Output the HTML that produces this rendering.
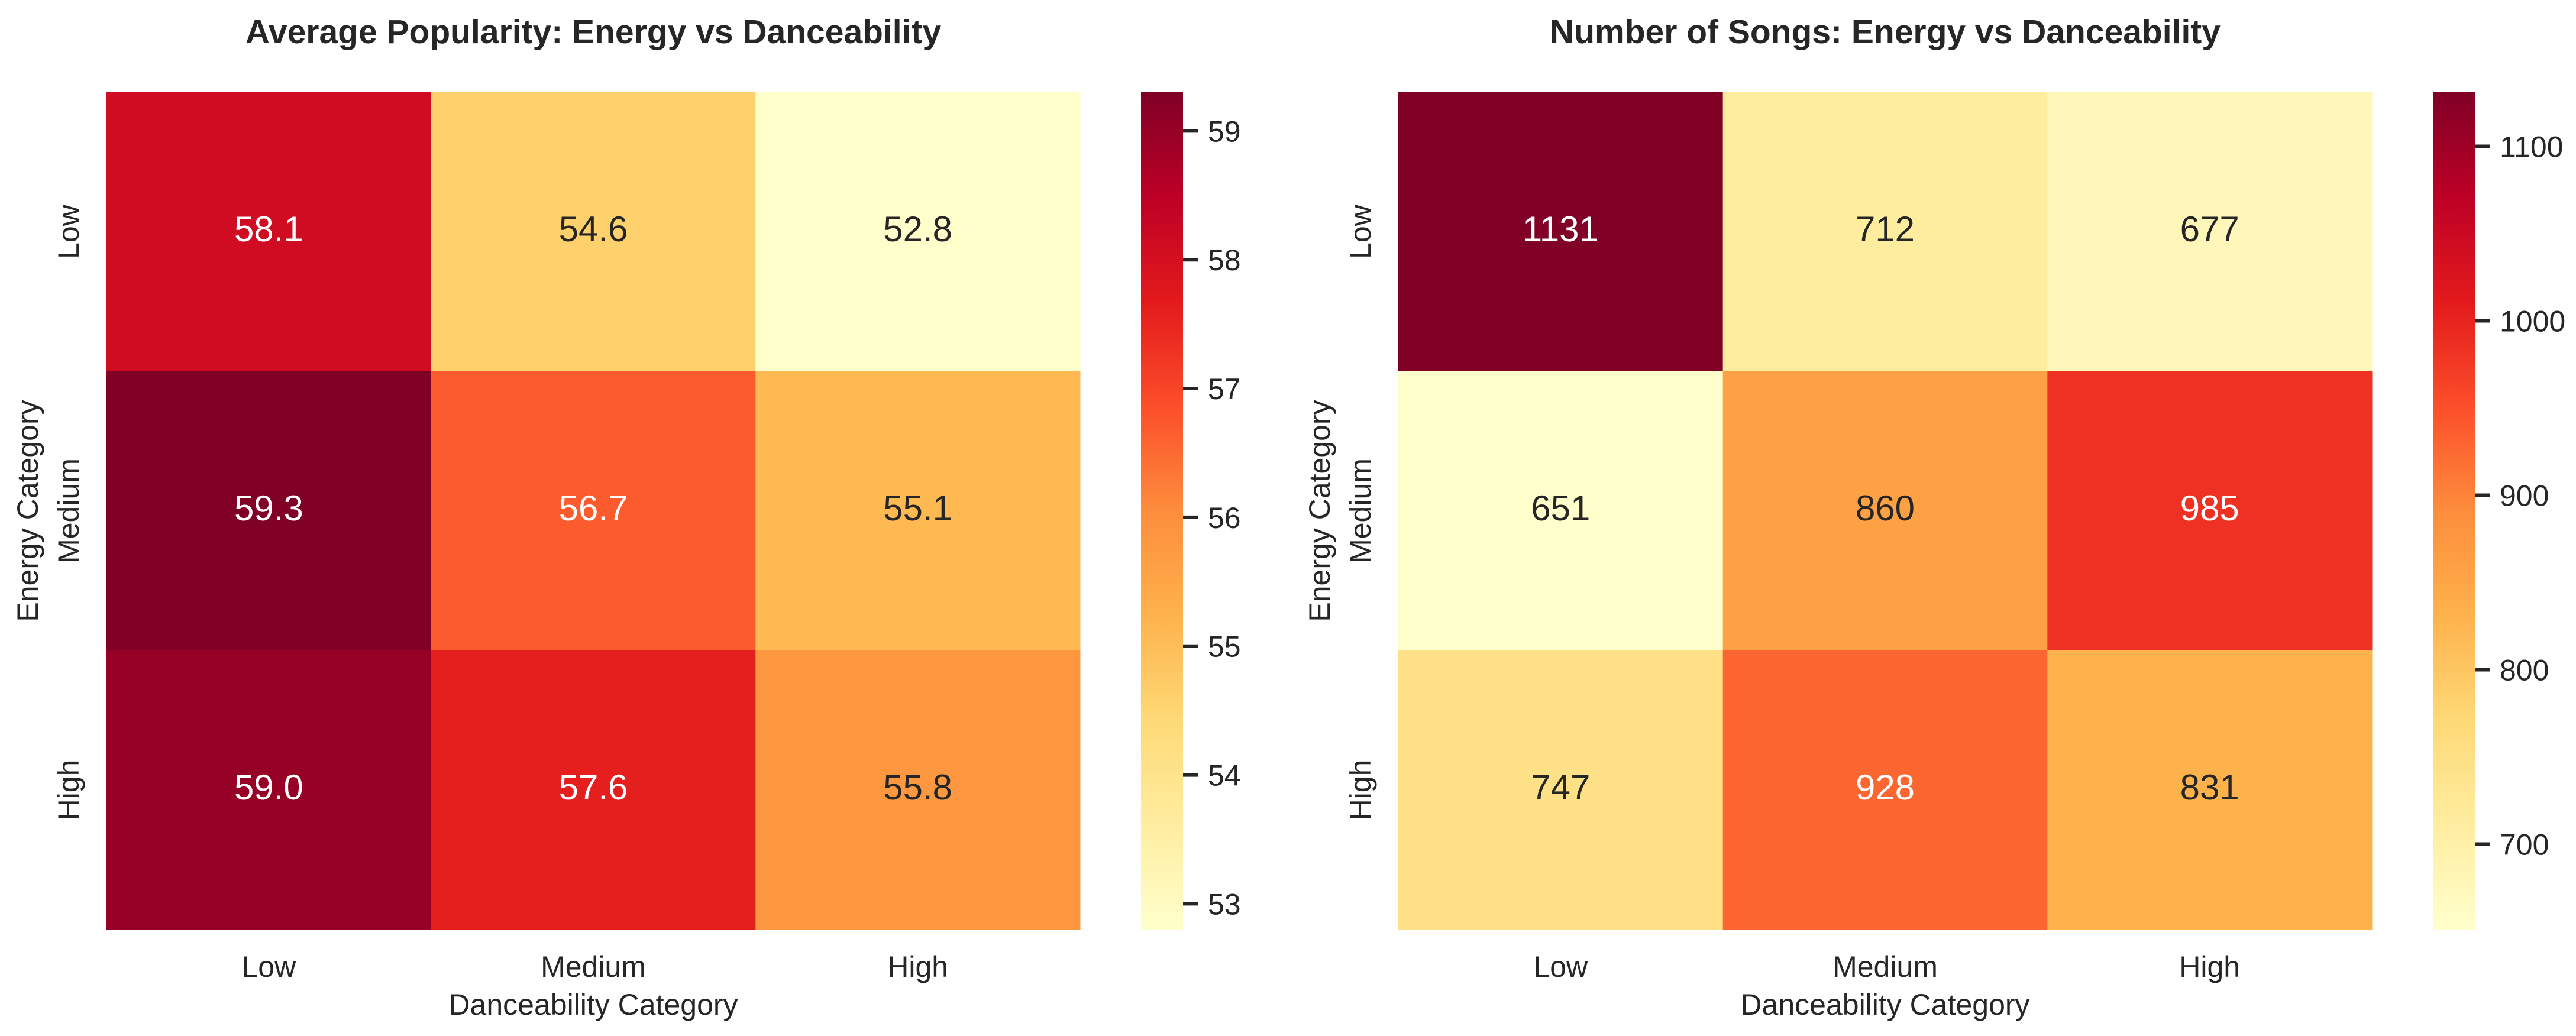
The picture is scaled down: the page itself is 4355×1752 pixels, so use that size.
<!DOCTYPE html>
<html><head><meta charset="utf-8"><style>
html,body{margin:0;padding:0;background:#fff;}
svg{display:block;}
text{font-family:"Liberation Sans",Arial,sans-serif;fill:#262626;}
</style></head><body>
<svg id="chart" width="4355" height="1752" viewBox="0 0 4355 1752" xmlns="http://www.w3.org/2000/svg">
<defs>
<linearGradient id="cbgrad" x1="0" y1="1" x2="0" y2="0">
<stop offset="0" stop-color="#ffffcc"/><stop offset="0.125" stop-color="#ffeda0"/><stop offset="0.25" stop-color="#fed976"/><stop offset="0.375" stop-color="#feb24c"/><stop offset="0.5" stop-color="#fd8d3c"/><stop offset="0.625" stop-color="#fc4e2a"/><stop offset="0.75" stop-color="#e31a1c"/><stop offset="0.875" stop-color="#bd0026"/><stop offset="1" stop-color="#800026"/>
</linearGradient>
</defs>
</svg>
<script>
const rowCategories = ['Low','Medium','High'];
const colCategories = ['Low','Medium','High'];
const popularityValues = [[58.1,54.6,52.8],[59.3,56.7,55.1],[59.0,57.6,55.8]];
const countValues = [[1131,712,677],[651,860,985],[747,928,831]];
const popularityTicks = [53,54,55,56,57,58,59];
const countTicks = [700,800,900,1000,1100];

const NS='http://www.w3.org/2000/svg';
const svg=document.getElementById('chart');
const stops=['#ffffcc','#ffeda0','#fed976','#feb24c','#fd8d3c','#fc4e2a','#e31a1c','#bd0026','#800026'];
function hex(h){return [1,3,5].map(i=>parseInt(h.substr(i,2),16));}
function cmap(t){t=Math.max(0,Math.min(1,t));const p=t*8;const i=Math.min(7,Math.floor(p));const f=p-i;const a=hex(stops[i]),b=hex(stops[i+1]);return a.map((v,k)=>Math.round(v+(b[k]-v)*f));}
function lum(c){const l=c.map(v=>{v/=255;return v<=0.03928?v/12.92:Math.pow((v+0.055)/1.055,2.4);});return 0.2126*l[0]+0.7152*l[1]+0.0722*l[2];}
function mk(tag,attrs,parent){const e=document.createElementNS(NS,tag);for(const k in attrs)e.setAttribute(k,attrs[k]);(parent||svg).appendChild(e);return e;}

function drawPanel(ox,title,values,ticks,fmt,prefix){
  const x0=ox,x1=ox+1646,y0=156,y1=1572;
  const flat=values.flat();const vmin=Math.min(...flat),vmax=Math.max(...flat);
  const cw=(x1-x0)/colCategories.length,rh=(y1-y0)/rowCategories.length;
  const xs=j=>x0+j*cw, ys=i=>y0+i*rh;
  const g=mk('g',{});
  
  
  const t=mk('text',{x:(x0+x1)/2,y:73,'text-anchor':'middle','font-size':57,'font-weight':'bold'},g);
  t.textContent=title;
  
  
  values.forEach((row,i)=>row.forEach((v,j)=>{
    const c=cmap((v-vmin)/(vmax-vmin));
    const r=mk('rect',{x:xs(j),y:ys(i),width:cw+0.5,height:rh+0.5,fill:'rgb('+c.join(',')+')'},g);
    
    
    const a=mk('text',{x:xs(j)+cw/2,y:ys(i)+rh/2+16,'text-anchor':'middle','font-size':60},g);
    a.style.fill=lum(c)>0.408?'#262626':'#ffffff';
    a.textContent=fmt(v);
    
    
  }));
  colCategories.forEach((c,j)=>{
    const e=mk('text',{x:xs(j)+cw/2,y:1652,'text-anchor':'middle','font-size':50},g);
    e.textContent=c;
    
    
  });
  rowCategories.forEach((c,i)=>{
    const cy=ys(i)+rh/2;
    const e=mk('text',{x:ox-47,y:cy,'text-anchor':'middle','font-size':50,transform:'rotate(-90 '+(ox-47)+' '+cy+')'},g);
    e.textContent=c;
    
    
  });
  const xl=mk('text',{x:(x0+x1)/2,y:1716,'text-anchor':'middle','font-size':50},g);
  xl.textContent='Danceability Category';
  
  
  const yx=ox-116,yc=(y0+y1)/2;
  const yl=mk('text',{x:yx,y:yc,'text-anchor':'middle','font-size':50,transform:'rotate(-90 '+yx+' '+yc+')'},g);
  yl.textContent='Energy Category';
  
  
  const cbx=ox+1749,cbw=71;
  const cb=mk('rect',{x:cbx,y:y0,width:cbw,height:y1-y0,fill:'url(#cbgrad)'},g);
  
  
  const cy=v=>y1-(v-vmin)/(vmax-vmin)*(y1-y0);
  ticks.forEach(v=>{
    const y=cy(v);
    const l=mk('line',{x1:cbx+cbw,x2:cbx+cbw+25,y1:y,y2:y,stroke:'#262626','stroke-width':6},g);
    
    
    const tl=mk('text',{x:cbx+cbw+42,y:y+18,'font-size':50},g);
    tl.textContent=v;
    
    
  });
}
drawPanel(180,'Average Popularity: Energy vs Danceability',popularityValues,popularityTicks,v=>v.toFixed(1),'popularity');
drawPanel(2364,'Number of Songs: Energy vs Danceability',countValues,countTicks,v=>String(v),'count');
</script>
</body></html>
